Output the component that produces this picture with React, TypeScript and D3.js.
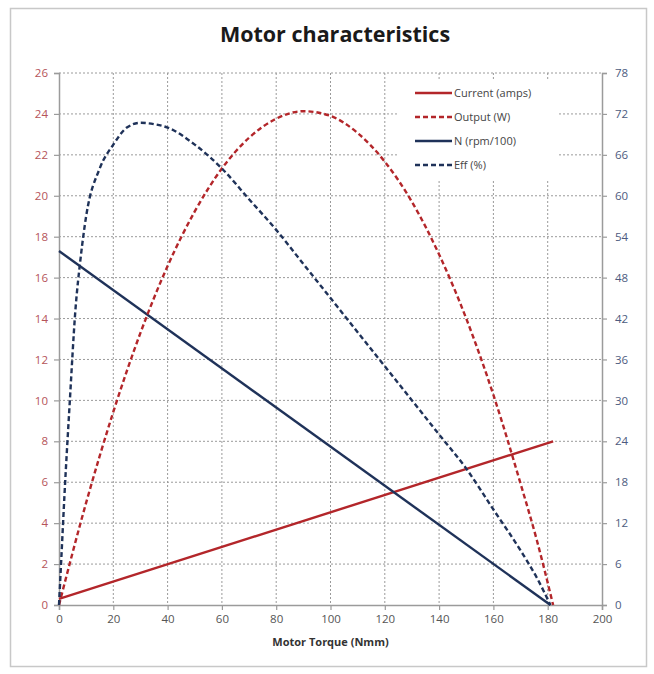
import * as d3 from 'd3';
import React, { useRef, useEffect } from 'react';

const width = 654;
const height = 674;
const margin = { top: 73, right: 52, bottom: 69, left: 59 };

// torque (Nmm) points
const currentTorque = [0, 182];
const currentAmps = [0.3, 8.0];

const speedTorque = [0, 181];
const speedN = [17.3, 0];

const outputTorque = [0, 10, 20, 30, 40, 50, 60, 70, 80, 90, 100, 110, 120, 130, 140, 150, 160, 170, 176, 182];
const outputW = [0, 15.0, 28.3, 39.9, 49.7, 57.7, 64.0, 68.5, 71.3, 72.4, 71.7, 69.2, 65.0, 59.1, 51.4, 42.0, 30.8, 17.8, 9.5, 0];

const effTorque = [0, 1, 2, 4, 6, 8, 10, 15, 20, 25, 30, 35, 40, 50, 60, 70, 80, 90, 100, 110, 120, 130, 140, 150, 160, 170, 176, 181];
const effPct = [0, 8, 16, 30, 43, 51, 57, 64, 67.5, 70, 70.7, 70.5, 70, 67.5, 64, 59.5, 55, 50, 45, 40, 35, 30, 25, 20, 14, 8, 4, 0];

const xTicks = [0, 20, 40, 60, 80, 100, 120, 140, 160, 180, 200];
const leftTicks = [0, 2, 4, 6, 8, 10, 12, 14, 16, 18, 20, 22, 24, 26];
const rightTicks = [0, 6, 12, 18, 24, 30, 36, 42, 48, 54, 60, 66, 72, 78];

const legendNames = ['Current (amps)', 'Output (W)', 'N (rpm/100)', 'Eff (%)'];
const legendColors = ['#b3262a', '#b3262a', '#1f3259', '#1f3259'];
const legendDashed = [false, true, false, true];

function App() {
    const ref = useRef(null);

    useEffect(() => {
        const svg = d3.select(ref.current);
        svg.selectAll('*').remove();

        const w = width - margin.left - margin.right;
        const h = height - margin.top - margin.bottom;
        const font = "'Open Sans', 'Liberation Sans', sans-serif";

        // chart frame
        svg.append('rect')
            .attr('x', 10.5).attr('y', 8.5)
            .attr('width', 636).attr('height', 658)
            .attr('fill', 'white')
            .attr('stroke', '#c8c8c8')
            .attr('stroke-width', 1.5);

        svg.append('text')
            .attr('x', 335).attr('y', 42)
            .attr('text-anchor', 'middle')
            .attr('font-family', font)
            .attr('font-weight', 'bold')
            .attr('font-size', 21.5)
            .attr('fill', '#1a1a1a')
            .text('Motor characteristics');

        const g = svg.append('g')
            .attr('transform', 'translate(' + margin.left + ',' + margin.top + ')');

        const x = d3.scaleLinear().domain([0, 200]).range([0, w]);
        const yL = d3.scaleLinear().domain([0, 26]).range([h, 0]);
        const yR = d3.scaleLinear().domain([0, 78]).range([h, 0]);

        // grid
        g.selectAll('.vgrid')
            .data(xTicks.filter(t => t > 0 && t < 200))
            .enter().append('line')
            .attr('x1', d => x(d)).attr('x2', d => x(d))
            .attr('y1', 0).attr('y2', h)
            .attr('stroke', '#9a9a9a')
            .attr('stroke-dasharray', '2,2');
        g.selectAll('.hgrid')
            .data(leftTicks.filter(t => t > 0))
            .enter().append('line')
            .attr('x1', 0).attr('x2', w)
            .attr('y1', d => yL(d)).attr('y2', d => yL(d))
            .attr('stroke', '#9a9a9a')
            .attr('stroke-dasharray', '2,2');

        // axes
        const axisColor = '#9b9b9b';
        const xAxis = g.append('g')
            .attr('transform', 'translate(0,' + h + ')')
            .call(d3.axisBottom(x).tickValues(xTicks).tickSize(5).tickPadding(5));
        xAxis.selectAll('text').attr('fill', '#555').attr('font-size', 11.5).attr('font-family', font);

        const lAxis = g.append('g')
            .call(d3.axisLeft(yL).tickValues(leftTicks).tickSize(5).tickPadding(6));
        lAxis.selectAll('text').attr('fill', '#b5545a').attr('font-size', 11.5).attr('font-family', font);

        const rAxis = g.append('g')
            .attr('transform', 'translate(' + w + ',0)')
            .call(d3.axisRight(yR).tickValues(rightTicks).tickSize(5).tickPadding(8));
        rAxis.selectAll('text').attr('fill', '#4d5b80').attr('font-size', 11.5).attr('font-family', font);

        [xAxis, lAxis, rAxis].forEach(a => {
            a.select('.domain').attr('stroke', axisColor).attr('stroke-width', 1.5);
            a.selectAll('line').attr('stroke', axisColor).attr('stroke-width', 1.2);
        });

        g.append('text')
            .attr('x', w / 2).attr('y', h + 41)
            .attr('text-anchor', 'middle')
            .attr('font-family', font)
            .attr('font-weight', 'bold')
            .attr('font-size', 11)
            .attr('fill', '#333')
            .text('Motor Torque (Nmm)');

        // legend background hides the grid behind it
        g.append('rect')
            .attr('x', 338).attr('y', 6)
            .attr('width', 162).attr('height', 100)
            .attr('fill', 'white');

        // series
        const addLine = (xs, ys, yScale, color, dashed) => {
            const pts = xs.map((d, i) => [d, ys[i]]);
            g.append('path')
                .datum(pts)
                .attr('fill', 'none')
                .attr('stroke', color)
                .attr('stroke-width', 2.4)
                .attr('stroke-dasharray', dashed ? '5,3' : null)
                .attr('d', d3.line().curve(d3.curveMonotoneX)
                    .x(d => x(d[0])).y(d => yScale(d[1])));
        };
        addLine(currentTorque, currentAmps, yL, legendColors[0], false);
        addLine(speedTorque, speedN, yL, legendColors[2], false);
        addLine(outputTorque, outputW, yR, legendColors[1], true);
        addLine(effTorque, effPct, yR, legendColors[3], true);

        // legend
        const lg = g.append('g').attr('transform', 'translate(356,20)');
        legendNames.forEach((name, i) => {
            lg.append('line')
                .attr('x1', 0).attr('x2', 37)
                .attr('y1', i * 24).attr('y2', i * 24)
                .attr('stroke', legendColors[i])
                .attr('stroke-width', 2.4)
                .attr('stroke-dasharray', legendDashed[i] ? '5,3' : null);
            lg.append('text')
                .attr('x', 39).attr('y', i * 24)
                .attr('dy', '0.35em')
                .attr('font-family', font)
                .attr('font-size', 11)
                .attr('fill', '#444')
                .text(name);
        });
    }, []);

    return (
        <svg ref={ref} width={width} height={height}
            style={{ position: 'absolute', left: 0, top: 0, background: 'white' }}>
        </svg>
    );
}

export default App;
